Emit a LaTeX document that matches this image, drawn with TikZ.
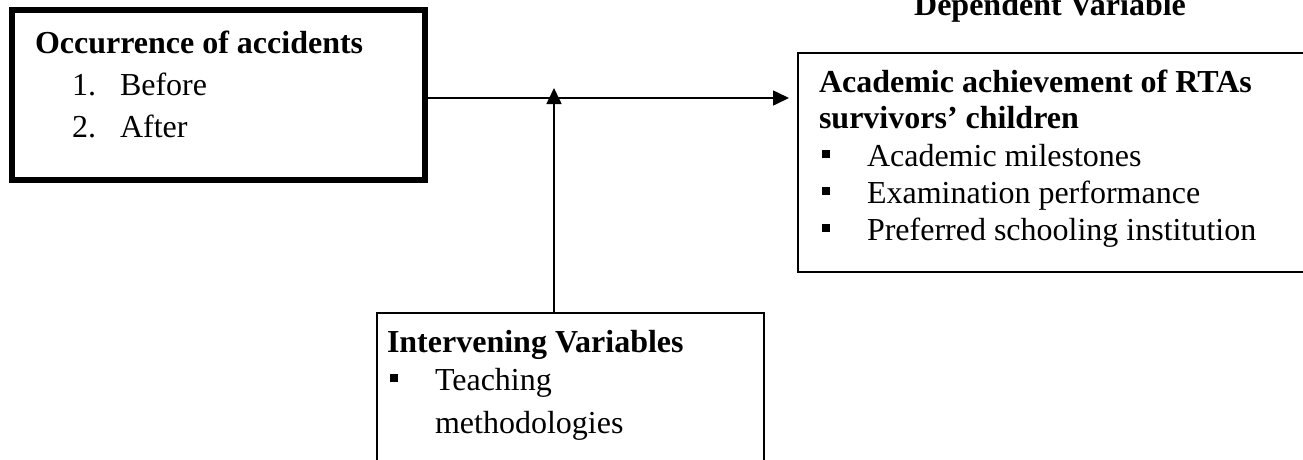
\documentclass[tikz,border=0pt]{standalone}
\usepackage{fontspec}
\setmainfont{Liberation Serif}
\usetikzlibrary{arrows.meta}
\begin{document}
\begin{tikzpicture}[x=1pt,y=-1pt,
  txt/.style={anchor=base west,inner sep=0pt,outer sep=0pt,font=\fontsize{32}{36}\selectfont},
  btxt/.style={txt,font=\fontsize{32}{36}\selectfont\bfseries},
  thickbox/.style={draw,line width=6pt,inner sep=0pt,outer sep=0pt},
  thinbox/.style={draw,line width=1.8pt,inner sep=0pt,outer sep=0pt},
  arr/.style={line width=1.6pt,-{Triangle[length=16pt,width=15pt]}}]
\useasboundingbox (0,0) rectangle (1303,459);
\clip (0,0) rectangle (1303,459);
% boxes
\node[thickbox,minimum width=413pt,minimum height=170pt] (box1) at (218.5,95) {};
\node[thinbox,minimum width=520pt,minimum height=219pt] (box2) at (1058,162.5) {};
\node[thinbox,minimum width=387pt,minimum height=170pt] (box3) at (570.5,398) {};
% texts box1
\node[btxt] (t1) at (35,53) {Occurrence of accidents};
\node[txt] (t1a) at (72,95) {\makebox[48pt][l]{1.}Before};
\node[txt] (t1b) at (72,137) {\makebox[48pt][l]{2.}After};
% texts box2
\node[btxt,anchor=base] (dv) at (1050,15) {Dependent Variable};
\node[btxt] (t2) at (819,92) {Academic achievement of RTAs};
\node[btxt] (t2b) at (819,128) {survivors’ children};
\node[txt] (t2c) at (822,166) {\makebox[45pt][l]{\rule[8pt]{8pt}{8pt}}Academic milestones};
\node[txt] (t2d) at (822,203) {\makebox[45pt][l]{\rule[8pt]{8pt}{8pt}}Examination performance};
\node[txt] (t2e) at (822,240) {\makebox[45pt][l]{\rule[8pt]{8pt}{8pt}}Preferred schooling institution};
% texts box3
\node[btxt] (t3) at (387,352) {Intervening Variables};
\node[txt] (t3a) at (390,390) {\makebox[45pt][l]{\rule[8pt]{8pt}{8pt}}Teaching};
\node[txt] (t3b) at (435,433) {methodologies};
% connectors
\coordinate (h) at (0,98);
\coordinate (v) at (554,88);
\draw[arr,shorten >=9pt] (box1.east |- h) -- (box2.west |- h);
\draw[arr] (v |- box3.north) -- (v);
\end{tikzpicture}
\end{document}
